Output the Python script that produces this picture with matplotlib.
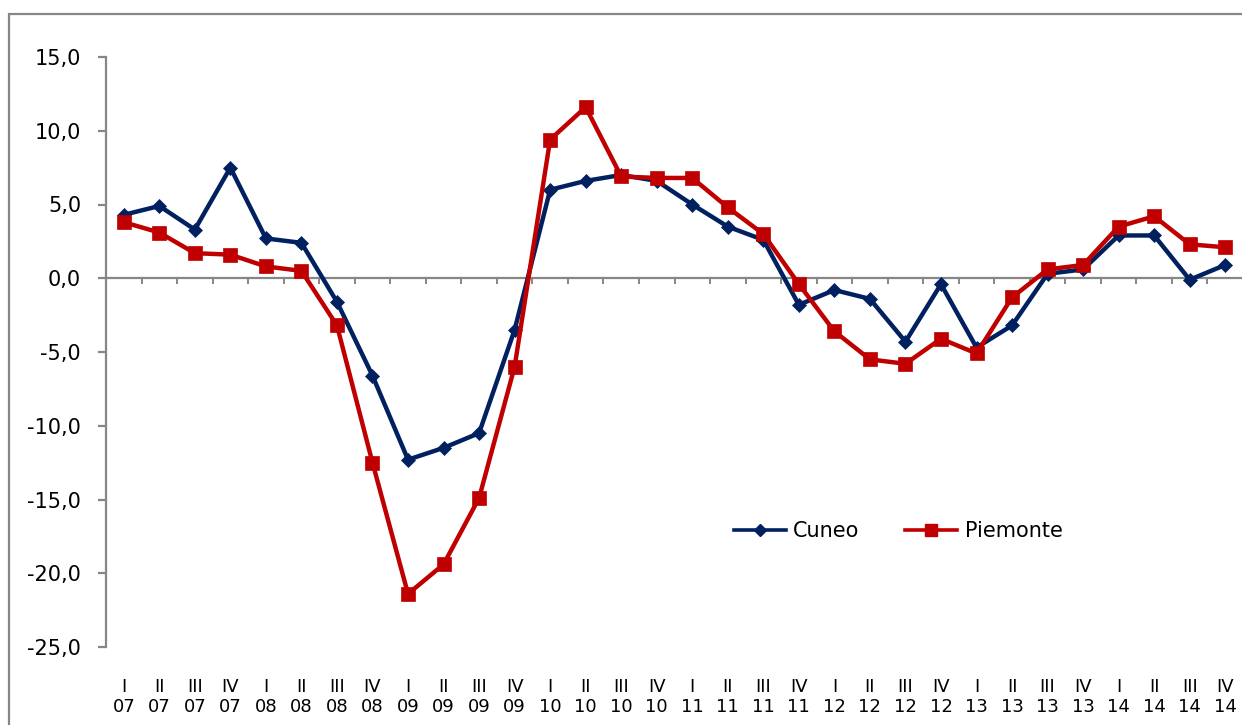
import matplotlib
matplotlib.use("Agg")
import matplotlib.pyplot as plt
from matplotlib.patches import Rectangle
from matplotlib.lines import Line2D
from matplotlib.ticker import FixedLocator

quarters = ["I", "II", "III", "IV"]
years = ["07", "08", "09", "10", "11", "12", "13", "14"]
categories = [f"{q}\n{y}" for y in years for q in quarters]

cuneo = [4.3, 4.9, 3.3, 7.5, 2.7, 2.4, -1.6, -6.6,
         -12.3, -11.5, -10.5, -3.5, 6.0, 6.6, 7.0, 6.6,
         5.0, 3.5, 2.6, -1.8, -0.8, -1.4, -4.3, -0.4,
         -4.7, -3.2, 0.3, 0.6, 2.9, 2.9, -0.1, 0.9]
piemonte = [3.8, 3.1, 1.7, 1.6, 0.8, 0.5, -3.2, -12.5,
            -21.4, -19.4, -14.9, -6.0, 9.4, 11.6, 6.9, 6.8,
            6.8, 4.8, 3.0, -0.4, -3.6, -5.5, -5.8, -4.1,
            -5.1, -1.3, 0.6, 0.9, 3.5, 4.2, 2.3, 2.1]

y_ticks = [-25, -20, -15, -10, -5, 0, 5, 10, 15]
y_labels = [f"{v:.1f}".replace(".", ",") for v in y_ticks]

NAVY = "#002060"
RED = "#C00000"
GRAY = "#868686"

W, H = 1242, 725
fig = plt.figure(figsize=(W / 100, H / 100), dpi=100)
plt.rcParams["font.family"] = ["DejaVu Sans"]

# outer chart frame (runs off the bottom/right edges)
fig.patches.append(Rectangle((9 / W, -0.1), 1.2, 1 - 14 / H + 0.1,
                             transform=fig.transFigure, fill=False,
                             edgecolor=GRAY, linewidth=1.6))

left, right, top, bottom = 106, 1243, 57, 647
ax = fig.add_axes([left / W, 1 - bottom / H, (right - left) / W, (bottom - top) / H])

x = list(range(len(categories)))
ax.plot(x, cuneo, color=NAVY, linewidth=3.2, marker="D", markersize=7,
        markeredgewidth=0.5, zorder=3, label="Cuneo")
ax.plot(x, piemonte, color=RED, linewidth=3.2, marker="s", markersize=10,
        markeredgewidth=0.5, zorder=4, label="Piemonte")

ax.set_xlim(-0.5, len(categories) - 0.5)
ax.set_ylim(-25, 15)

for s in ["top", "right"]:
    ax.spines[s].set_visible(False)
ax.spines["left"].set_color(GRAY)
ax.spines["left"].set_linewidth(1.6)
ax.spines["bottom"].set_position(("data", 0))
ax.spines["bottom"].set_color(GRAY)
ax.spines["bottom"].set_linewidth(1.6)

ax.set_yticks(y_ticks)
ax.set_yticklabels(y_labels, fontsize=15)
ax.tick_params(axis="y", direction="out", length=6, width=1.6, color=GRAY, pad=12)

# tick marks on the zero line between categories
ax.xaxis.set_major_locator(FixedLocator([i + 0.5 for i in x[:-1]]))
ax.tick_params(axis="x", direction="out", length=4.5, width=1.4, color=GRAY,
               labelbottom=False)

# category labels along the bottom edge
sec = ax.secondary_xaxis(0)
sec.set_xticks(x)
sec.set_xticklabels(categories, fontsize=13, linespacing=1.2)
sec.tick_params(axis="x", length=0, pad=22)
sec.spines["bottom"].set_visible(False)

handles = [Line2D([], [], color=NAVY, linewidth=2.6, marker="D", markersize=6),
           Line2D([], [], color=RED, linewidth=2.6, marker="s", markersize=8.5)]
fig.legend(handles, ["Cuneo", "Piemonte"], loc="center",
           bbox_to_anchor=(898 / W, 1 - 531 / H), ncol=2, frameon=False,
           fontsize=15, handlelength=2.5, handletextpad=0.35,
           columnspacing=2.2)

fig.savefig("out.png", dpi=100)
